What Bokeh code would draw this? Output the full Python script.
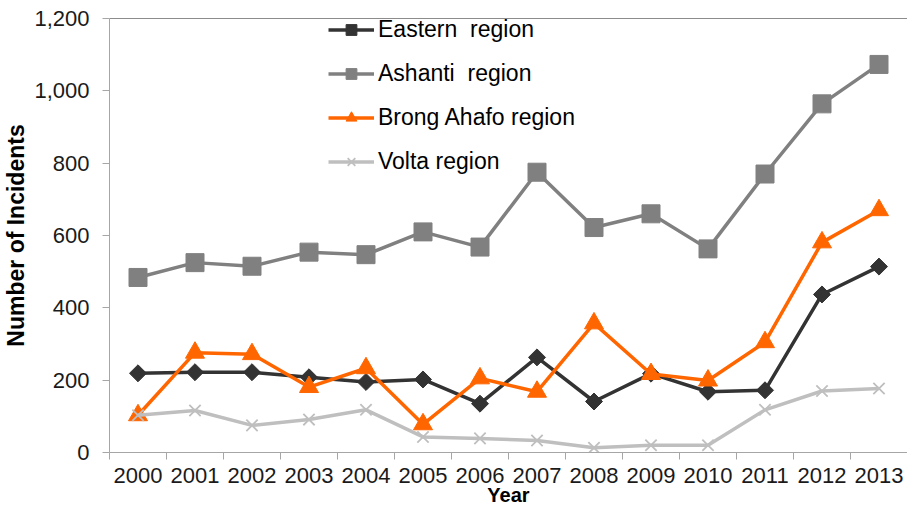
from bokeh.plotting import figure
from bokeh.models import (Range1d, FixedTicker, NumeralTickFormatter, Legend,
                          LegendItem, BasicTickFormatter, LinearAxis)
from bokeh.embed import file_html
from bokeh.resources import INLINE
import numpy as np

years = [2000, 2001, 2002, 2003, 2004, 2005, 2006, 2007, 2008, 2009, 2010, 2011, 2012, 2013]
eastern = [219, 222, 222, 208, 195, 202, 135, 263, 141, 218, 168, 172, 437, 514]
ashanti = [484, 525, 515, 554, 547, 610, 568, 775, 622, 660, 563, 770, 964, 1073]
brong_ahafo = [103, 276, 272, 181, 233, 78, 205, 168, 357, 217, 199, 305, 581, 670]
volta = [103, 116, 75, 91, 118, 43, 39, 33, 13, 20, 20, 118, 170, 177]
y_ticks = [0, 200, 400, 600, 800, 1000, 1200]

series_names = ["Eastern  region", "Ashanti  region", "Brong Ahafo region", "Volta region"]
x_title = "Year"
y_title = "Number of Incidents"

FONT = "Liberation Sans"

p = figure(width=907, height=508, output_backend="svg", toolbar_location=None,
           x_range=Range1d(years[0] - 0.5, years[-1] + 0.5),
           y_range=Range1d(0, 1200),
           min_border_top=18, min_border_right=0, min_border_bottom=0, min_border_left=0)
p.outline_line_color = None
p.xgrid.visible = False
p.ygrid.visible = False
p.background_fill_color = "white"
p.border_fill_color = "white"

# Axes
xa = p.xaxis[0]
xa.ticker = FixedTicker(ticks=years, minor_ticks=[y - 0.5 for y in years] + [years[-1] + 0.5])
xa.formatter = BasicTickFormatter(use_scientific=False)
xa.major_tick_out = 0
xa.major_tick_in = 0
xa.minor_tick_out = 7
xa.minor_tick_in = 0
xa.minor_tick_line_color = "#a6a6a6"
xa.axis_line_color = "#a6a6a6"
xa.major_label_text_font = FONT
xa.major_label_text_font_size = "22px"
xa.major_label_text_color = "#1a1a1a"
xa.major_label_standoff = 8
xa.axis_label = x_title
xa.axis_label_text_font = FONT
xa.axis_label_text_font_size = "20px"
xa.axis_label_text_font_style = "bold"
xa.axis_label_text_color = "#000000"
xa.axis_label_standoff = -2

ya = p.yaxis[0]
ya.ticker = FixedTicker(ticks=y_ticks, minor_ticks=[])
ya.formatter = NumeralTickFormatter(format="0,0")
ya.major_tick_out = 7
ya.major_tick_in = 0
ya.major_tick_line_color = "#a6a6a6"
ya.axis_line_color = "#a6a6a6"
ya.major_label_text_font = FONT
ya.major_label_text_font_size = "22px"
ya.major_label_text_color = "#1a1a1a"
ya.major_label_standoff = 13
ya.axis_label = y_title
ya.axis_label_text_font = FONT
ya.axis_label_text_font_size = "23px"
ya.axis_label_text_font_style = "bold"
ya.axis_label_text_color = "#000000"
ya.axis_label_standoff = 2

# top border line (plot-area border)
top = LinearAxis(ticker=FixedTicker(ticks=[], minor_ticks=[]), axis_line_color="#8c8c8c",
                 axis_line_width=1.2, major_tick_line_color=None, minor_tick_line_color=None,
                 major_label_text_font_size="0px")
p.add_layout(top, "above")

items = []
# Eastern
l1 = p.line(years, eastern, line_color="#333333", line_width=3.5)
m1 = p.scatter(years, eastern, marker="square", angle=np.pi / 4, size=12,
               fill_color="#333333", line_color="#333333")
items.append(LegendItem(label=series_names[0], renderers=[l1, m1]))
# Ashanti
l2 = p.line(years, ashanti, line_color="#808080", line_width=3.5)
m2 = p.scatter(years, ashanti, marker="square", size=18,
               fill_color="#808080", line_color="#808080")
items.append(LegendItem(label=series_names[1], renderers=[l2, m2]))
# Brong Ahafo
l3 = p.line(years, brong_ahafo, line_color="#ff6600", line_width=3.5)
m3 = p.scatter(years, brong_ahafo, marker="triangle", size=19,
               fill_color="#ff6600", line_color="#ff6600")
items.append(LegendItem(label=series_names[2], renderers=[l3, m3]))
# Volta
l4 = p.line(years, volta, line_color="#bfbfbf", line_width=3.5)
m4 = p.scatter(years, volta, marker="x", size=16, line_color="#bfbfbf", line_width=1.8)
items.append(LegendItem(label=series_names[3], renderers=[l4, m4]))

legend = Legend(items=items, location=(219, 277))
legend.background_fill_alpha = 0
legend.border_line_color = None
legend.padding = 0
legend.margin = 0
legend.spacing = 17
legend.glyph_width = 46
legend.glyph_height = 27
legend.label_height = 27
legend.label_standoff = 4
legend.label_text_font = FONT
legend.label_text_font_size = "23px"
legend.label_text_color = "#000000"
p.add_layout(legend)

open("out.html", "w").write(file_html(p, INLINE))
